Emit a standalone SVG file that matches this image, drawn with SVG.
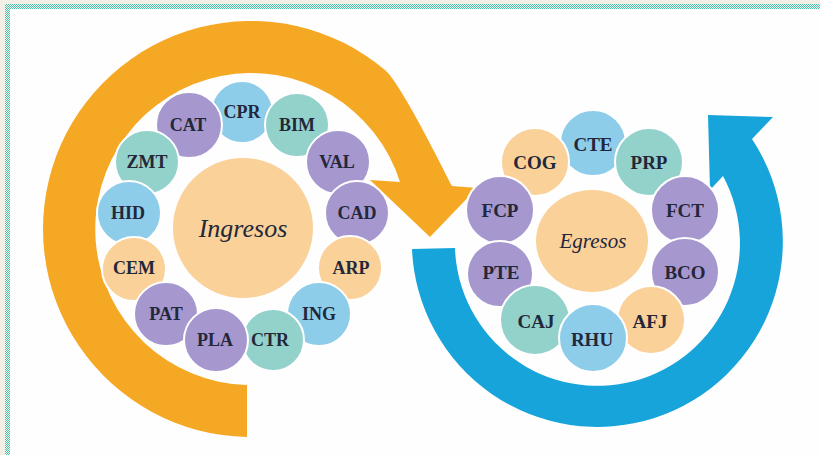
<svg xmlns="http://www.w3.org/2000/svg" width="820" height="455" viewBox="0 0 820 455">
<defs>
<pattern id="chk" patternUnits="userSpaceOnUse" width="2" height="2">
<rect width="2" height="2" fill="#e9f7f3"/>
<rect width="1" height="1" fill="#4fc2aa"/>
<rect x="1" y="1" width="1" height="1" fill="#4fc2aa"/>
</pattern>
<style>
.pu{fill:#a697cf}
.bl{fill:#8dcdea}
.te{fill:#93d2cb}
.pe{fill:#f9d199}
.c{stroke:#ffffff;stroke-width:2}
.t{font-family:"Liberation Serif",serif;font-weight:bold;font-size:18px;fill:#23273a;text-anchor:middle}
.tr{font-size:19px}
.big{font-family:"Liberation Serif",serif;font-style:italic;fill:#23273a;text-anchor:middle}
</style>
</defs>
<rect width="820" height="455" fill="#f3eee6"/>
<rect x="5" y="4" width="815" height="451" fill="#fefefe"/>
<rect x="5" y="4" width="815" height="5" fill="url(#chk)"/>
<rect x="5" y="4" width="5" height="451" fill="url(#chk)"/>

<g id="connectors">
<path id="arrow-ingresos" d="M247,437 A208,208 0 1 1 384.7,69.7 C400,82.6 436.2,154.9 452,186 L477,188 L430,237 L370,180 L400,182 A156,156 0 1 0 247,385 Z" fill="#f5a823"/>
<path id="arrow-egresos" d="M455,248 L412,249 A185.5,185.5 0 1 0 752,139 L773,117 L708,115 L710,190 L723,176 A142.5,142.5 0 1 1 455,248 Z" fill="#17a4da"/>
</g>

<g id="ingresos"><circle cx="243" cy="228" r="70" class="pe"/><text x="243" y="237" class="big" font-size="26">Ingresos</text></g>
<g id="CPR"><circle cx="242" cy="112" r="31" class="bl c"/><text x="242" y="118" class="t">CPR</text></g>
<g id="CAT"><circle cx="189" cy="125" r="33" class="pu c"/><text x="188" y="131" class="t">CAT</text></g>
<g id="BIM"><circle cx="297" cy="125" r="32" class="te c"/><text x="297" y="131" class="t">BIM</text></g>
<g id="ZMT"><circle cx="147" cy="162" r="32" class="te c"/><text x="147" y="168" class="t">ZMT</text></g>
<g id="VAL"><circle cx="338" cy="162" r="32" class="pu c"/><text x="337" y="168" class="t">VAL</text></g>
<g id="HID"><circle cx="129" cy="213" r="32" class="bl c"/><text x="128" y="219" class="t">HID</text></g>
<g id="CAD"><circle cx="357" cy="213" r="32" class="pu c"/><text x="357" y="219" class="t">CAD</text></g>
<g id="CEM"><circle cx="134" cy="269" r="32" class="pe c"/><text x="134" y="274" class="t">CEM</text></g>
<g id="ARP"><circle cx="350" cy="268" r="32" class="pe c"/><text x="351" y="274" class="t">ARP</text></g>
<g id="PAT"><circle cx="166" cy="314" r="32" class="pu c"/><text x="166" y="320" class="t">PAT</text></g>
<g id="ING"><circle cx="319" cy="314" r="32" class="bl c"/><text x="319" y="320" class="t">ING</text></g>
<g id="CTR"><circle cx="273" cy="340" r="31" class="te c"/><text x="270" y="346" class="t">CTR</text></g>
<g id="PLA"><circle cx="216" cy="340" r="32" class="pu c"/><text x="215" y="346" class="t">PLA</text></g>

<g id="egresos"><ellipse cx="592" cy="241" rx="56" ry="51" class="pe"/><text x="593" y="248" class="big" font-size="21">Egresos</text></g>
<g id="CTE"><circle cx="593" cy="143" r="33" class="bl c"/><text x="593" y="151" class="t tr">CTE</text></g>
<g id="COG"><circle cx="535" cy="162" r="34" class="pe c"/><text x="535" y="169" class="t tr">COG</text></g>
<g id="PRP"><circle cx="649" cy="162" r="34" class="te c"/><text x="649" y="169" class="t tr">PRP</text></g>
<g id="FCP"><circle cx="500" cy="210" r="34" class="pu c"/><text x="500" y="217" class="t tr">FCP</text></g>
<g id="FCT"><circle cx="685" cy="210" r="34" class="pu c"/><text x="685" y="217" class="t tr">FCT</text></g>
<g id="PTE"><circle cx="500" cy="274" r="33" class="pu c"/><text x="501" y="279" class="t tr">PTE</text></g>
<g id="BCO"><circle cx="685" cy="272" r="34" class="pu c"/><text x="685" y="279" class="t tr">BCO</text></g>
<g id="CAJ"><circle cx="535" cy="320" r="35" class="te c"/><text x="536" y="328" class="t tr">CAJ</text></g>
<g id="AFJ"><circle cx="651" cy="320" r="34" class="pe c"/><text x="650" y="328" class="t tr">AFJ</text></g>
<g id="RHU"><circle cx="593" cy="338" r="34" class="bl c"/><text x="592" y="346" class="t tr">RHU</text></g>
</svg>
